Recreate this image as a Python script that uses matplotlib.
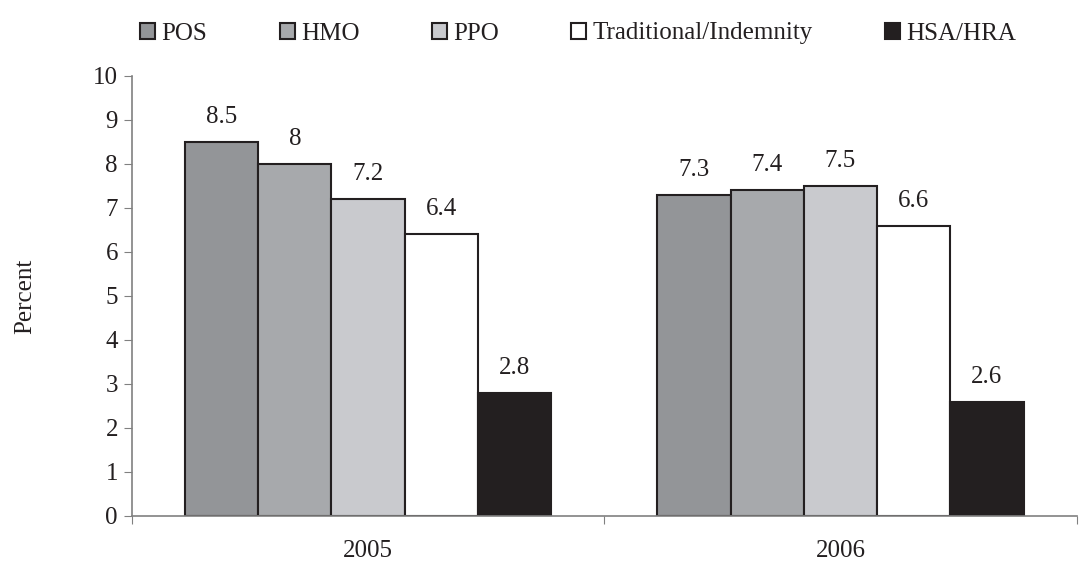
import numpy as np
import matplotlib.pyplot as plt
from matplotlib import font_manager
from matplotlib.patches import Patch

# pick up Liberation Serif (Times metrics) if matplotlib hasn't registered it
for f in font_manager.findSystemFonts():
    if 'LiberationSerif' in f or 'Liberation Serif' in f:
        font_manager.fontManager.addfont(f)
plt.rcParams['font.family'] = ['Liberation Serif', 'DejaVu Serif']

# Plan types and their values for each year
years = ['2005', '2006']
plans = ['POS', 'HMO', 'PPO', 'Traditional/Indemnity', 'HSA/HRA']
vals_2005 = [8.5, 8, 7.2, 6.4, 2.8]
vals_2006 = [7.3, 7.4, 7.5, 6.6, 2.6]
colors = ['#939598', '#a7a9ac', '#c9cace', '#ffffff', '#231f20']

fs = 18

fig = plt.figure(figsize=(10.81, 5.67), dpi=100)
ax = fig.add_axes([0.122, 0.09, 0.874, 0.776])

data = np.array([vals_2005, vals_2006])
x = np.arange(len(years))
w = 0.155
for k in range(len(plans)):
    xs = x + (k - 2) * w
    ax.bar(xs, data[:, k], width=w, color=colors[k], edgecolor='#231f20', linewidth=1.5)
    for xi, v in zip(xs, data[:, k]):
        ax.annotate('%g' % v, (xi, v), xytext=(0, 18), textcoords='offset points',
                    ha='center', va='center', fontsize=fs, color='#231f20')

ax.set_xlim(-0.5, 1.5)
ax.set_ylim(0, 10)
ax.set_yticks(range(0, 11))
ax.set_xticks([-0.5, 0.5, 1.5])
ax.set_xticklabels([])
ax.set_xticks(x, minor=True)
ax.set_xticklabels(years, minor=True)
ax.tick_params(axis='x', which='minor', length=0, pad=17, labelsize=fs, labelcolor='#231f20')
ax.tick_params(axis='x', which='major', length=6, color='#808080')
ax.tick_params(axis='y', length=6, color='#808080', labelsize=fs, pad=4, labelcolor='#231f20')
for s in ['top', 'right']:
    ax.spines[s].set_visible(False)
for s in ['left', 'bottom']:
    ax.spines[s].set_color('#808080')
    ax.spines[s].set_linewidth(1.2)
ax.set_ylabel('Percent', fontsize=fs, labelpad=41, color='#231f20')

handles = [Patch(facecolor=c, edgecolor='#231f20', linewidth=1.5) for c in colors]
fig.legend(handles, plans, loc='upper center', bbox_to_anchor=(0.535, 1.0), ncol=5,
           frameon=False, fontsize=fs, handlelength=0.6, handleheight=0.6,
           handletextpad=0.25, columnspacing=2.9, labelcolor='#231f20')

fig.savefig('out.png', dpi=100)
